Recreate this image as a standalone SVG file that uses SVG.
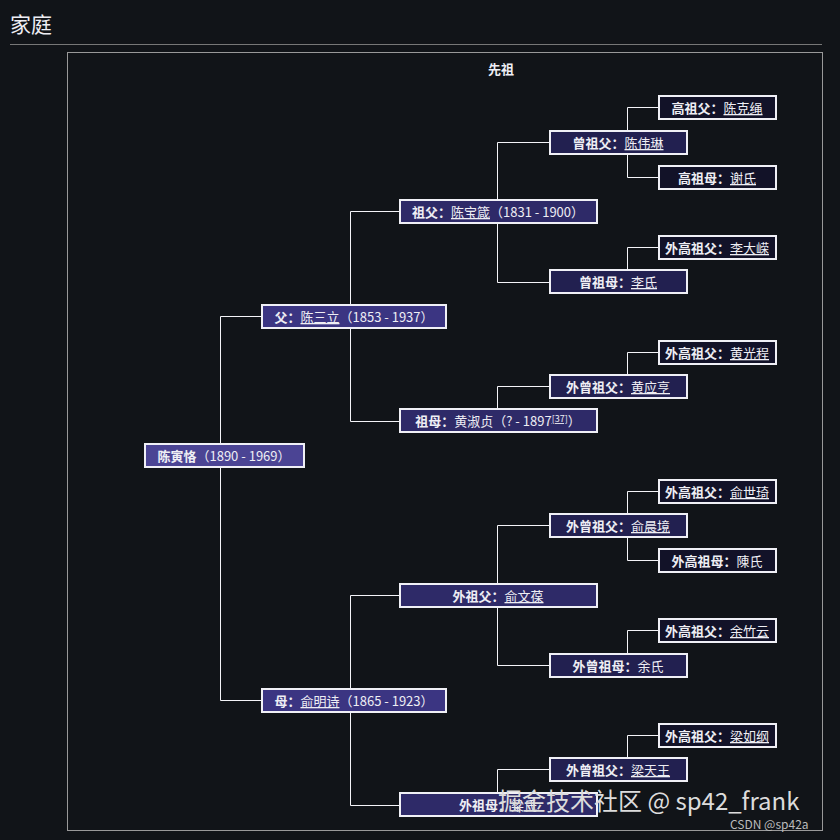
<svg xmlns="http://www.w3.org/2000/svg" width="840" height="840" viewBox="0 0 840 840">
<style>
text{font-family:"Noto Sans CJK SC","Noto Sans",sans-serif;fill:#eeeef4;font-size:13px}
.b{font-weight:bold}
.u{text-decoration:underline}
.n rect{stroke:#f0f0f6;stroke-width:2}
.c{stroke:#f4f4f8;stroke-width:1;fill:none}
</style>
<rect width="840" height="840" fill="#111418"/>
<text x="10" y="32" style="font-size:21px">家庭</text>
<line x1="10" y1="44.5" x2="822" y2="44.5" stroke="#777"/>
<rect x="67.5" y="52.5" width="755" height="778" fill="none" stroke="#999"/>
<text x="501" y="74" text-anchor="middle" class="b">先祖</text>
<g id="connectors" class="c">
<path d="M262,316.5H220.5V700.5H262"/>
<path d="M400,211.5H350.5V421.5H400M400,595.5H350.5V805.5H400"/>
<path d="M550,142.5H497.5V282.5H550M550,386.5H497.5V421M550,525.5H497.5V665.5H550M550,769.5H497.5V805"/>
<path d="M659,107.5H627.5V177.5H659M659,247.5H627.5V282M659,352.5H627.5V386M659,491.5H627.5V560.5H659M659,630.5H627.5V665M659,735.5H627.5V769"/>
</g>
<g id="n0" class="n"><rect x="145" y="444" width="159" height="23" fill="#4b4494"/><text x="224" y="461" text-anchor="middle"><tspan class="b">陈寅恪</tspan>（1890 - 1969）</text></g>
<g id="n1" class="n"><rect x="262" y="305" width="184" height="23" fill="#3b3582"/><text x="354" y="322" text-anchor="middle"><tspan class="b">父：</tspan><tspan class="u">陈三立</tspan>（1853 - 1937）</text></g>
<g id="n2" class="n"><rect x="262" y="689" width="184" height="23" fill="#3b3582"/><text x="354" y="706" text-anchor="middle"><tspan class="b">母：</tspan><tspan class="u">俞明诗</tspan>（1865 - 1923）</text></g>
<g id="n3" class="n"><rect x="400" y="200" width="197" height="23" fill="#2e2a68"/><text x="498" y="217" text-anchor="middle"><tspan class="b">祖父：</tspan><tspan class="u">陈宝箴</tspan>（1831 - 1900）</text></g>
<g id="n4" class="n"><rect x="400" y="409" width="197" height="23" fill="#2e2a68"/><text x="498" y="426" text-anchor="middle"><tspan class="b">祖母：</tspan>黄淑贞（?  - 1897<tspan class="u" font-size="9" dy="-4">[37]</tspan><tspan dy="4">）</tspan></text></g>
<g id="n5" class="n"><rect x="400" y="584" width="197" height="23" fill="#2e2a68"/><text x="498" y="601" text-anchor="middle"><tspan class="b">外祖父：</tspan><tspan class="u">俞文葆</tspan></text></g>
<g id="n6" class="n"><rect x="400" y="793" width="197" height="23" fill="#2e2a68"/><text x="498" y="810" text-anchor="middle"><tspan class="b">外祖母：</tspan>梁氏</text></g>
<g id="n7" class="n"><rect x="550" y="131" width="137" height="23" fill="#222050"/><text x="618" y="148" text-anchor="middle"><tspan class="b">曾祖父：</tspan><tspan class="u">陈伟琳</tspan></text></g>
<g id="n8" class="n"><rect x="550" y="270" width="137" height="23" fill="#222050"/><text x="618" y="287" text-anchor="middle"><tspan class="b">曾祖母：</tspan><tspan class="u">李氏</tspan></text></g>
<g id="n9" class="n"><rect x="550" y="375" width="137" height="23" fill="#222050"/><text x="618" y="392" text-anchor="middle"><tspan class="b">外曾祖父：</tspan><tspan class="u">黄应亨</tspan></text></g>
<g id="n10" class="n"><rect x="550" y="514" width="137" height="23" fill="#222050"/><text x="618" y="531" text-anchor="middle"><tspan class="b">外曾祖父：</tspan><tspan class="u">俞晨境</tspan></text></g>
<g id="n11" class="n"><rect x="550" y="654" width="137" height="23" fill="#222050"/><text x="618" y="671" text-anchor="middle"><tspan class="b">外曾祖母：</tspan>余氏</text></g>
<g id="n12" class="n"><rect x="550" y="758" width="137" height="23" fill="#222050"/><text x="618" y="775" text-anchor="middle"><tspan class="b">外曾祖父：</tspan><tspan class="u">梁天王</tspan></text></g>
<g id="n13" class="n"><rect x="659" y="96" width="117" height="23" fill="#121228"/><text x="717" y="113" text-anchor="middle"><tspan class="b">高祖父：</tspan><tspan class="u">陈克绳</tspan></text></g>
<g id="n14" class="n"><rect x="659" y="166" width="117" height="23" fill="#121228"/><text x="717" y="183" text-anchor="middle"><tspan class="b">高祖母：</tspan><tspan class="u">谢氏</tspan></text></g>
<g id="n15" class="n"><rect x="659" y="236" width="117" height="23" fill="#121228"/><text x="717" y="253" text-anchor="middle"><tspan class="b">外高祖父：</tspan><tspan class="u">李大嵘</tspan></text></g>
<g id="n16" class="n"><rect x="659" y="341" width="117" height="23" fill="#121228"/><text x="717" y="358" text-anchor="middle"><tspan class="b">外高祖父：</tspan><tspan class="u">黄光程</tspan></text></g>
<g id="n17" class="n"><rect x="659" y="480" width="117" height="23" fill="#121228"/><text x="717" y="497" text-anchor="middle"><tspan class="b">外高祖父：</tspan><tspan class="u">俞世琦</tspan></text></g>
<g id="n18" class="n"><rect x="659" y="549" width="117" height="23" fill="#121228"/><text x="717" y="566" text-anchor="middle"><tspan class="b">外高祖母：</tspan>陳氏</text></g>
<g id="n19" class="n"><rect x="659" y="619" width="117" height="23" fill="#121228"/><text x="717" y="636" text-anchor="middle"><tspan class="b">外高祖父：</tspan><tspan class="u">余竹云</tspan></text></g>
<g id="n20" class="n"><rect x="659" y="724" width="117" height="23" fill="#121228"/><text x="717" y="741" text-anchor="middle"><tspan class="b">外高祖父：</tspan><tspan class="u">梁如纲</tspan></text></g>
<text x="498" y="810" style="font-size:24px;fill:#dcdcdc">掘金技术社区 @ sp42_frank</text>
<text x="730" y="829" style="font-size:12px;fill:#bbb">CSDN @sp42a</text>
</svg>
